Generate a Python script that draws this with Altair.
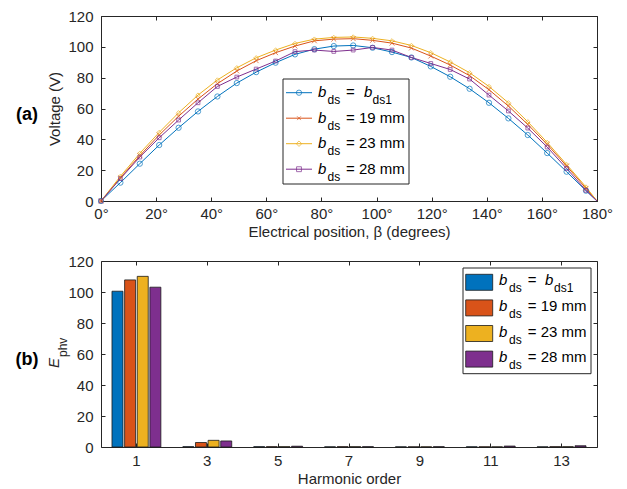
import altair as alt
import pandas as pd

# ---------------- data ----------------
series = ["bds1", "19 mm", "23 mm", "28 mm"]
colors = ["#0072BD", "#D95319", "#EDB120", "#7E2F8E"]

angles = [0, 7.04, 14.08, 21.12, 28.16, 35.2, 42.24, 49.28, 56.32, 63.36, 70.4,
          77.44, 84.48, 91.52, 98.56, 105.6, 112.64, 119.68, 126.72, 133.76,
          140.8, 147.84, 154.88, 161.92, 168.96, 176.0, 180.0]
v_bds1 = [0, 11.9, 24.2, 36.3, 47.5, 58.1, 67.8, 76.5, 83.6, 89.7, 95.1, 98.5, 100.5,
          100.9, 99.4, 96.6, 93.1, 87.3, 80.6, 72.8, 63.7, 53.6, 42.8, 31.1, 19.0, 6.7, 0]
v_19 = [0, 15.0, 29.4, 42.8, 55.0, 66.1, 76.1, 84.3, 91.0, 96.2, 100.5, 103.9, 105.0,
        105.3, 104.2, 102.4, 99.2, 94.0, 88.2, 81.3, 72.2, 61.6, 49.7, 36.7, 22.7, 8.2, 0]
v_23 = [0, 16.0, 30.9, 44.5, 57.2, 68.7, 78.5, 86.4, 92.9, 97.9, 102.2, 105.0, 106.1,
        106.4, 105.5, 103.9, 100.9, 96.2, 90.2, 83.2, 74.3, 63.7, 51.4, 38.0, 23.7, 9.1, 0]
v_28 = [0, 14.5, 28.5, 41.0, 52.5, 63.7, 74.3, 80.4, 85.6, 90.8, 96.9, 97.9, 97.0,
        97.9, 99.6, 97.9, 93.1, 89.2, 85.3, 79.1, 68.7, 58.4, 47.3, 35.0, 21.1, 6.9, 0]

harmonics = [1, 3, 5, 7, 9, 11, 13]
h_bds1 = [100.5, 0.2, 0.2, 0.1, 0.1, 0.1, 0.1]
h_19 = [107.8, 2.9, 0.2, 0.2, 0.1, 0.1, 0.2]
h_23 = [110.1, 4.3, 0.2, 0.2, 0.1, 0.1, 0.2]
h_28 = [103.1, 3.9, 0.5, 0.2, 0.2, 0.6, 0.8]

x_ticks = [0, 20, 40, 60, 80, 100, 120, 140, 160, 180]
y_ticks = [0, 20, 40, 60, 80, 100, 120]

# ---------------- tables ----------------
line_vals = [v_bds1, v_19, v_23, v_28]
df_lines = pd.DataFrame([
    {"angle": a, "value": v, "series": s}
    for s, vals in zip(series, line_vals) for a, v in zip(angles, vals)
])
bar_vals = [h_bds1, h_19, h_23, h_28]
df_bars = pd.DataFrame([
    {"harmonic": h, "value": v, "series": s}
    for s, vals in zip(series, bar_vals) for h, v in zip(harmonics, vals)
])
ONE = pd.DataFrame({"k": [0]})

FONT = "Liberation Sans"
AXC = "#262626"
TXT = "#000000"
FS = 15
SUB = 12
W = 496
H = 185

xmark = "M-1,-1L1,1M1,-1L-1,1"
shapes = ["circle", xmark, "diamond", "square"]
msizes = [28, 14, 30, 24]

color_enc = alt.Color("series:N", scale=alt.Scale(domain=series, range=colors), legend=None)


def txt(text, x, y, size=FS, italic=False, bold=False, align="left",
        baseline="alphabetic", angle=0, color=TXT):
    return alt.Chart(ONE).mark_text(
        text=text, align=align, baseline=baseline, fontSize=size,
        fontStyle="italic" if italic else "normal",
        fontWeight="bold" if bold else "normal",
        font=FONT, color=color, angle=angle,
    ).encode(x=alt.value(x), y=alt.value(y))


def tick_axis(orient, vals):
    return alt.Axis(orient=orient, offset=-4, tickSize=4, labels=False, domain=False,
                    grid=False, title=None, values=vals, tickColor=AXC, tickWidth=1)


# ---------------- panel (a) ----------------
xs_a = alt.Scale(domain=[0, 180], nice=False, zero=False)
ys = alt.Scale(domain=[0, 120], nice=False)

lines = alt.Chart(df_lines).mark_line(strokeWidth=1).encode(
    x=alt.X("angle:Q", scale=xs_a, axis=alt.Axis(
        values=x_ticks, labelExpr="datum.value + '°'", ticks=False, domain=False, grid=False,
        labelFlush=False, title="Electrical position, β (degrees)", labelPadding=5,
        titlePadding=3)),
    y=alt.Y("value:Q", scale=ys, axis=alt.Axis(
        values=y_ticks, ticks=False, domain=False, grid=False, title="Voltage (V)",
        labelPadding=8, titlePadding=5)),
    color=color_enc,
    detail="series:N",
)
points = alt.Chart(df_lines).transform_filter("datum.angle < 180").mark_point(
    filled=False, strokeWidth=1).encode(
    x=alt.X("angle:Q", scale=xs_a, axis=None),
    y=alt.Y("value:Q", scale=ys, axis=None),
    color=color_enc,
    shape=alt.Shape("series:N", scale=alt.Scale(domain=series, range=shapes), legend=None),
    size=alt.Size("series:N", scale=alt.Scale(domain=series, range=msizes), legend=None),
)
ticks_a1 = alt.Chart(df_lines).mark_point(opacity=0).encode(
    x=alt.X("angle:Q", scale=xs_a, axis=tick_axis("bottom", x_ticks)),
    y=alt.Y("value:Q", scale=ys, axis=tick_axis("left", y_ticks)),
)
ticks_a2 = alt.Chart(df_lines).mark_point(opacity=0).encode(
    x=alt.X("angle:Q", scale=xs_a, axis=tick_axis("top", x_ticks)),
    y=alt.Y("value:Q", scale=ys, axis=tick_axis("right", y_ticks)),
)

leg_a = [alt.Chart(ONE).mark_rect(fill="white", stroke=AXC, strokeWidth=1).encode(
    x=alt.value(182), x2=alt.value(308), y=alt.value(63), y2=alt.value(168))]
for i, (s, c, shp, ms) in enumerate(zip(series, colors, shapes, msizes)):
    ly = 76.7 + 25.5 * i
    bl = 81 + 25.5 * i
    leg_a.append(alt.Chart(ONE).mark_rule(color=c, strokeWidth=1).encode(
        x=alt.value(185), x2=alt.value(211), y=alt.value(ly)))
    leg_a.append(alt.Chart(ONE).mark_point(shape=shp, filled=False, size=ms, color=c,
                                           strokeWidth=1).encode(x=alt.value(198), y=alt.value(ly)))
    leg_a.append(txt("b", 217, bl, italic=True))
    leg_a.append(txt("ds", 226.5, bl + 7, size=SUB))
    if i == 0:
        leg_a.append(txt("=", 245, bl))
        leg_a.append(txt("b", 263, bl, italic=True))
        leg_a.append(txt("ds1", 271.5, bl + 7, size=SUB))
    else:
        leg_a.append(txt("= " + s, 245, bl))

panel_a = alt.layer(
    lines, points, ticks_a1, ticks_a2, *leg_a,
    txt("(a)", -74, 99, size=18, bold=True, align="center", baseline="middle"),
).resolve_axis(x="independent", y="independent").properties(width=W, height=H)

# ---------------- panel (b) ----------------
xs_b = alt.Scale(domain=harmonics, paddingInner=0, paddingOuter=0)
ys_b = alt.Scale(domain=[0, 120], nice=False)

bars = alt.Chart(df_bars).mark_bar(stroke="#1a1a1a", strokeWidth=0.8).encode(
    x=alt.X("harmonic:O", scale=xs_b, axis=alt.Axis(
        labelAngle=0, ticks=False, domain=False, grid=False, title="Harmonic order",
        labelPadding=6, titlePadding=3)),
    xOffset=alt.XOffset("series:N", scale=alt.Scale(domain=series, paddingInner=0.13,
                                                     paddingOuter=0.87)),
    y=alt.Y("value:Q", scale=ys_b, axis=alt.Axis(
        values=y_ticks, ticks=False, domain=False, grid=False, title=None, labelPadding=8)),
    color=color_enc,
)
ticks_b1 = alt.Chart(df_bars).mark_point(opacity=0).encode(
    x=alt.X("harmonic:O", scale=xs_b, axis=tick_axis("bottom", harmonics)),
    y=alt.Y("value:Q", scale=ys_b, axis=tick_axis("left", y_ticks)),
)
ticks_b2 = alt.Chart(df_bars).mark_point(opacity=0).encode(
    x=alt.X("harmonic:O", scale=xs_b, axis=tick_axis("top", harmonics)),
    y=alt.Y("value:Q", scale=ys_b, axis=tick_axis("right", y_ticks)),
)

leg_b = [alt.Chart(ONE).mark_rect(fill="white", stroke=AXC, strokeWidth=1).encode(
    x=alt.value(362), x2=alt.value(490), y=alt.value(7), y2=alt.value(112.7))]
for i, (s, c) in enumerate(zip(series, colors)):
    cy = 21.3 + 25.6 * i
    bl = 24.3 + 25.6 * i
    leg_b.append(alt.Chart(ONE).mark_rect(fill=c, stroke="#1a1a1a", strokeWidth=0.8).encode(
        x=alt.value(364.7), x2=alt.value(391.7), y=alt.value(cy - 8), y2=alt.value(cy + 8)))
    leg_b.append(txt("b", 398, bl, italic=True))
    leg_b.append(txt("ds", 408, bl + 7, size=SUB))
    if i == 0:
        leg_b.append(txt("=", 426.7, bl))
        leg_b.append(txt("b", 444, bl, italic=True))
        leg_b.append(txt("ds1", 453, bl + 7, size=SUB))
    else:
        leg_b.append(txt("= " + s, 426.7, bl))

panel_b = alt.layer(
    bars, ticks_b1, ticks_b2, *leg_b,
    txt("(b)", -74, 99, size=18, bold=True, align="center", baseline="middle"),
    txt("E", -47, 102, size=FS, italic=True, align="center", baseline="middle",
        angle=270, color=AXC),
    txt("phv", -38, 96, size=SUB, align="left", baseline="middle", angle=270, color=AXC),
).resolve_axis(x="independent", y="independent").properties(width=W, height=186)

chart = alt.vconcat(panel_a, panel_b, spacing=13).properties(
    padding={"left": 7, "top": 0, "right": 5, "bottom": 5},
    background="white",
).configure_view(stroke=AXC, strokeWidth=1).configure_axis(
    labelFont=FONT, titleFont=FONT, labelFontSize=FS, titleFontSize=FS,
    labelColor=AXC, titleColor=AXC, titleFontWeight="normal",
)

chart.save("out.html", embed_options={"renderer": "svg", "actions": False})
